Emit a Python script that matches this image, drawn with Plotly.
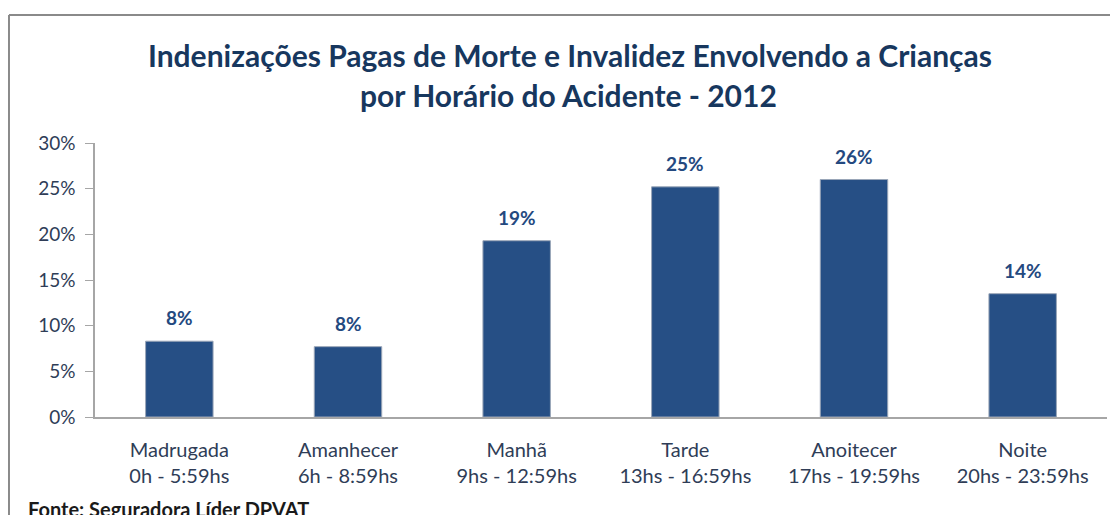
import plotly.graph_objects as go

# Dados do gráfico
periodos = ["Madrugada", "Amanhecer", "Manhã", "Tarde", "Anoitecer", "Noite"]
horarios = ["0h - 5:59hs", "6h - 8:59hs", "9hs - 12:59hs", "13hs - 16:59hs", "17hs - 19:59hs", "20hs - 23:59hs"]
valores = [0.083, 0.077, 0.193, 0.252, 0.260, 0.135]
rotulos = ["8%", "8%", "19%", "25%", "26%", "14%"]
y_ticks = [0, 0.05, 0.10, 0.15, 0.20, 0.25, 0.30]
y_tick_text = ["0%", "5%", "10%", "15%", "20%", "25%", "30%"]

categorias = [p + "<br>" + h for p, h in zip(periodos, horarios)]

FONT = "Lato, sans-serif"
TXT_COLOR = "#2f3d57"
LABEL_COLOR = "#24497f"
TITLE_COLOR = "#17375e"

fig = go.Figure()
fig.add_trace(go.Bar(
    x=categorias,
    y=valores,
    width=0.4,
    marker=dict(color="#264f85", line=dict(color="#9aa6b8", width=1)),
    hoverinfo="skip",
))

# rótulos de dados acima das barras
for c, v, t in zip(categorias, valores, rotulos):
    fig.add_annotation(
        x=c, y=v, text="<b>" + t + "</b>", showarrow=False,
        yanchor="bottom", yshift=10,
        font=dict(family=FONT, size=19, color=LABEL_COLOR),
    )

# título (duas linhas)
fig.add_annotation(
    xref="paper", yref="paper", x=0.469, y=1.321, showarrow=False,
    text="<b>Indenizações Pagas de Morte e Invalidez Envolvendo a Crianças</b>",
    font=dict(family=FONT, size=30, color=TITLE_COLOR), yanchor="middle",
)
fig.add_annotation(
    xref="paper", yref="paper", x=0.468, y=1.175, showarrow=False,
    text="<b>por Horário do Acidente - 2012</b>",
    font=dict(family=FONT, size=30, color=TITLE_COLOR), yanchor="middle",
)

# fonte dos dados
fig.add_annotation(
    xref="paper", yref="paper", x=-0.068, y=-0.285, showarrow=False,
    xanchor="left", yanchor="top",
    text="<b>Fonte: Seguradora Líder DPVAT</b>",
    font=dict(family=FONT, size=20, color="#1a1a1a"),
)

# moldura (linha superior e esquerda)
fig.add_shape(type="line", xref="paper", yref="paper",
              x0=-0.085, x1=1.02, y0=1.467, y1=1.467,
              line=dict(color="#8a8a8a", width=2))
fig.add_shape(type="line", xref="paper", yref="paper",
              x0=-0.085, x1=-0.085, y0=1.467, y1=-0.4,
              line=dict(color="#8a8a8a", width=2))

# o corpo da página tem margem de 8px, por isso a figura é 8px menor
fig.update_layout(
    width=1110,
    height=507,
    margin=dict(l=87, r=11, t=135, b=98),
    paper_bgcolor="white",
    plot_bgcolor="white",
    showlegend=False,
    font=dict(family=FONT, color=TXT_COLOR),
)
fig.update_xaxes(
    showline=True, linecolor="#a6a6a6", linewidth=1.5,
    ticks="", ticklabelstandoff=14,
    tickfont=dict(family=FONT, size=20, color=TXT_COLOR),
    showgrid=False,
)
fig.update_yaxes(
    range=[0, 0.30], tickvals=y_ticks, ticktext=y_tick_text,
    showline=True, linecolor="#a6a6a6", linewidth=1.5,
    ticks="outside", ticklen=8, tickcolor="#a6a6a6",
    ticklabelstandoff=6,
    tickfont=dict(family=FONT, size=19, color=TXT_COLOR),
    showgrid=False, zeroline=False,
)

fig.write_html("out.html")
